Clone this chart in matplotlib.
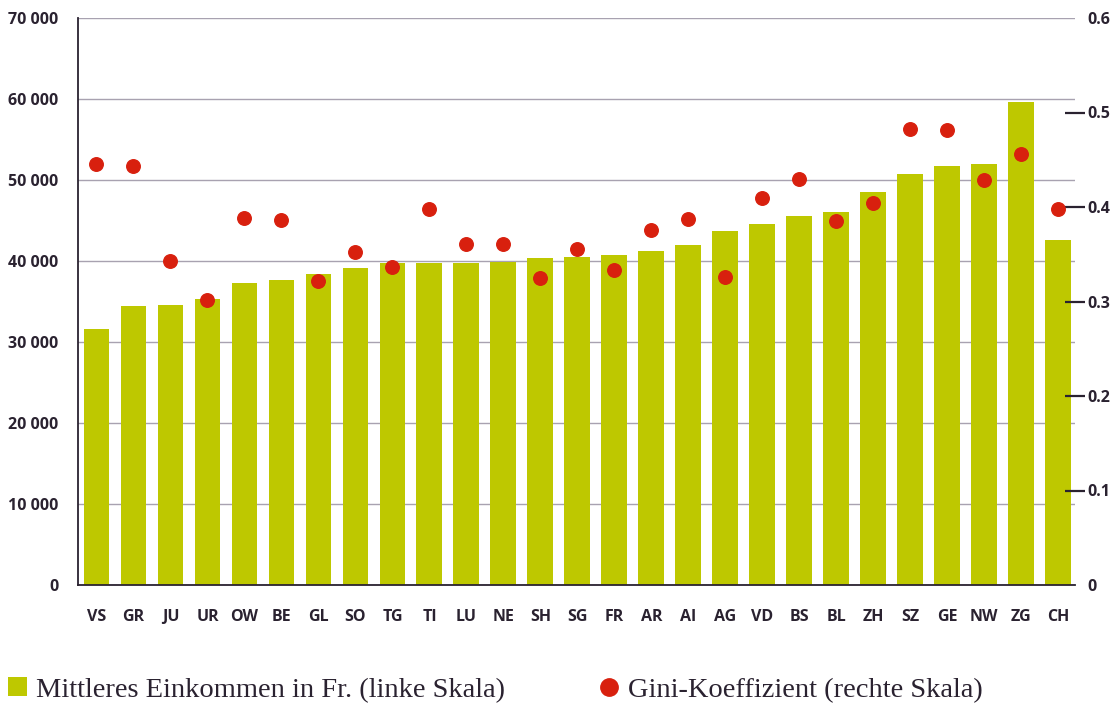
import matplotlib
matplotlib.use("Agg")
from matplotlib import pyplot as plt
from matplotlib.lines import Line2D
from matplotlib.patches import Patch

kantone = ['VS', 'GR', 'JU', 'UR', 'OW', 'BE', 'GL', 'SO', 'TG', 'TI', 'LU', 'NE', 'SH',
           'SG', 'FR', 'AR', 'AI', 'AG', 'VD', 'BS', 'BL', 'ZH', 'SZ', 'GE', 'NW', 'ZG', 'CH']
einkommen = [31650, 34400, 34600, 35300, 37300, 37600, 38400, 39100, 39700, 39700, 39700,
             39900, 40400, 40500, 40700, 41250, 42000, 43700, 44550, 45500, 46000, 48500,
             50750, 51700, 51950, 59600, 42550]
gini = [0.445, 0.443, 0.343, 0.302, 0.388, 0.386, 0.322, 0.352, 0.336, 0.398, 0.361,
        0.361, 0.325, 0.356, 0.333, 0.376, 0.387, 0.326, 0.41, 0.43, 0.385, 0.404,
        0.483, 0.481, 0.429, 0.456, 0.398]

left_ticks = [0, 10000, 20000, 30000, 40000, 50000, 60000, 70000]
right_ticks = [0, 0.1, 0.2, 0.3, 0.4, 0.5, 0.6]

bar_col = '#bec800'
dot_col = '#d8200e'
ink = '#2a2230'
tickfont = dict(family='Open Sans', weight='bold', size=11.5, color=ink)

fig = plt.figure(figsize=(11.17, 7.07), dpi=100)
ax = fig.add_axes([78 / 1117, 1 - 585 / 707, (1075 - 78) / 1117, (585 - 18) / 707])

x = list(range(len(kantone)))
ax.bar(x, einkommen, width=0.7, color=bar_col, zorder=2)
ax.set_xlim(-0.5, 26.45)
ax.set_ylim(0, 70000)
ax.set_yticks(left_ticks)
ax.set_yticklabels([f'{v:,}'.replace(',', ' ') for v in left_ticks], fontdict=tickfont)
ax.set_xticks(x)
ax.set_xticklabels(kantone, fontdict=tickfont)
ax.tick_params(axis='y', length=0, pad=14)
ax.tick_params(axis='x', length=0, pad=17)
ax.grid(axis='y', color='#a8a2b0', linewidth=1.0, zorder=0)
ax.set_axisbelow(True)
for s in ['top', 'right']:
    ax.spines[s].set_visible(False)
ax.spines['left'].set_color(ink)
ax.spines['left'].set_linewidth(1.3)
ax.spines['bottom'].set_color(ink)
ax.spines['bottom'].set_linewidth(1.3)

ax2 = ax.twinx()
ax2.scatter(x, gini, s=95, color=dot_col, zorder=3)
ax2.set_ylim(0, 0.6)
ax2.set_yticks(right_ticks)
ax2.set_yticklabels(['0', '0.1', '0.2', '0.3', '0.4', '0.5', '0.6'], fontdict=tickfont)
ax2.tick_params(axis='y', direction='inout', length=14, width=1.6, color=ink, pad=2)
for i in (0, 6):
    ax2.yaxis.get_major_ticks()[i].tick2line.set_visible(False)
for s in ax2.spines.values():
    s.set_visible(False)

serif = dict(family='Liberation Serif', size=20.5)
h1 = Patch(facecolor=bar_col, edgecolor='none')
h2 = Line2D([], [], marker='o', linestyle='none', color=dot_col, markersize=12.5)
leg1 = fig.legend([h1], ['Mittleres Einkommen in Fr. (linke Skala)'], loc='center left',
                  bbox_to_anchor=(8 / 1117, 1 - 690 / 707), frameon=False, prop=serif,
                  handlelength=0.65, handleheight=0.65, handletextpad=0.32, borderpad=0,
                  borderaxespad=0)
for t in leg1.get_texts():
    t.set_color(ink)
leg2 = fig.legend([h2], ['Gini-Koeffizient (rechte Skala)'], loc='center left',
                  bbox_to_anchor=(600 / 1117, 1 - 690 / 707), frameon=False, prop=serif,
                  handlelength=0.6, handletextpad=0.39, borderpad=0, borderaxespad=0)
for t in leg2.get_texts():
    t.set_color(ink)

fig.savefig('out.png', dpi=100)
